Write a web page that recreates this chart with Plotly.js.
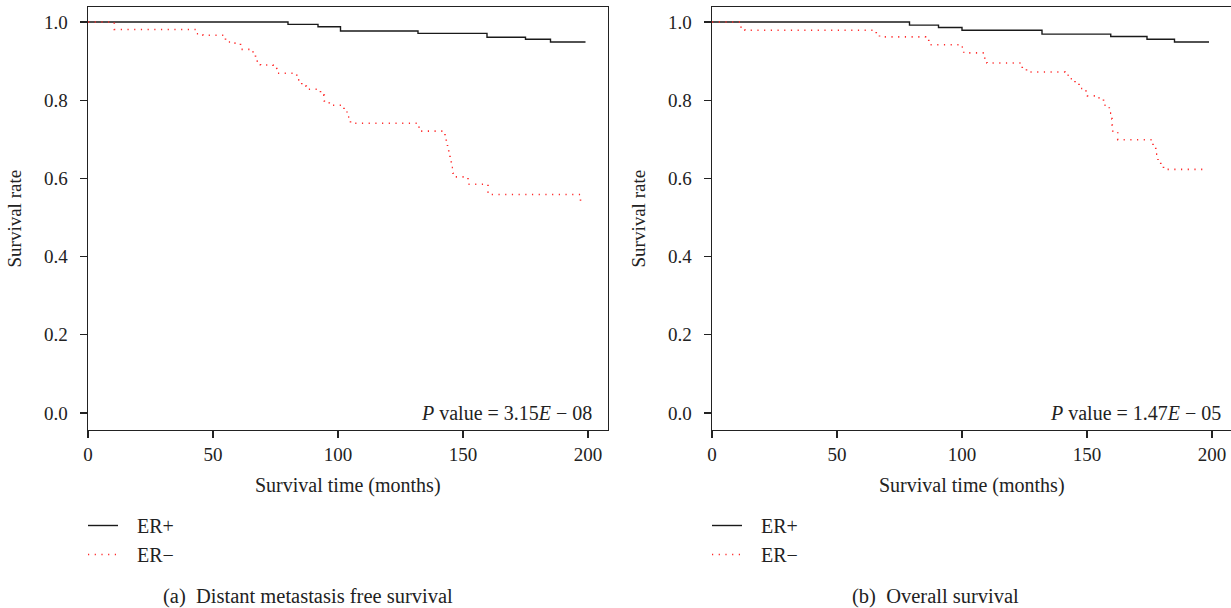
<!DOCTYPE html>
<html>
<head>
<meta charset="utf-8">
<script src="https://cdn.plot.ly/plotly-3.0.1.min.js"></script>
<style>html,body{margin:0;padding:0;background:#fff;}#chart{width:1231px;height:608px;}</style>
</head>
<body>
<div id="chart"></div>
<script>
// Panel (a): distant metastasis free survival
const dmfsPosTime = [0, 80, 92, 101, 132, 159.6, 175, 185, 199];
const dmfsPosRate = [1.0, 0.994, 0.988, 0.977, 0.971, 0.961, 0.956, 0.949, 0.949];
const dmfsNegTime = [0, 10.5, 43.5, 46, 55, 58, 61, 66, 67, 69, 74, 75.5, 83.5, 85.5, 87.3, 93, 94.5, 96.5, 102.4, 103.6, 105, 132.4, 133, 142.8, 143.3, 143.8, 144.3, 144.8, 145.3, 146, 147, 152, 160, 197, 198];
const dmfsNegRate = [1.0, 0.981, 0.970, 0.966, 0.949, 0.946, 0.930, 0.919, 0.900, 0.890, 0.881, 0.869, 0.852, 0.836, 0.828, 0.813, 0.798, 0.787, 0.772, 0.757, 0.741, 0.726, 0.721, 0.710, 0.693, 0.679, 0.662, 0.646, 0.628, 0.613, 0.604, 0.585, 0.559, 0.541, 0.541];
const dmfsPValue = "3.15";
const dmfsPExp = "08";

// Panel (b): overall survival
const osPosTime = [0, 79, 90.6, 100, 132, 159.5, 174, 185, 198.8];
const osPosRate = [1.0, 0.992, 0.986, 0.979, 0.969, 0.963, 0.956, 0.949, 0.949];
const osNegTime = [0, 11.6, 13.2, 65.7, 67, 85.4, 86.7, 99.7, 100.7, 109.1, 110, 124.1, 125.8, 141.2, 142.8, 145.2, 146.8, 149.1, 150.2, 154.8, 156.6, 158.9, 159.2, 160, 160.1, 160.3, 162.3, 176.4, 177.5, 178.4, 179.5, 180.6, 196.9];
const osNegRate = [1.0, 0.985, 0.979, 0.970, 0.962, 0.955, 0.942, 0.936, 0.921, 0.906, 0.895, 0.882, 0.872, 0.864, 0.855, 0.844, 0.830, 0.824, 0.811, 0.802, 0.787, 0.776, 0.767, 0.752, 0.736, 0.719, 0.699, 0.680, 0.662, 0.646, 0.632, 0.623, 0.623];
const osPValue = "1.47";
const osPExp = "05";

const xTicks = [0, 50, 100, 150, 200];
const yTicks = [0, 0.2, 0.4, 0.6, 0.8, 1.0];
const seriesNames = ["ER+", "ER\u2212"];
const xTitle = "Survival time (months)";
const yTitle = "Survival rate";
const captions = ["(a)\u00a0\u00a0Distant metastasis free survival", "(b)\u00a0\u00a0Overall survival"];

const W = 1231, H = 608;
const FONT = "Liberation Serif";
const TXT = "#222";
const pad = "\u00a0\u00a0\u2009";

const posLine = {color: "#1a1a1a", width: 1.4, shape: "hv"};
const negLine = {color: "#ff2a2a", width: 1.6, shape: "hv", dash: "1.2px,5.5px"};

const traces = [
  {x: dmfsPosTime, y: dmfsPosRate, xaxis: "x", yaxis: "y", mode: "lines", line: posLine, name: pad + seriesNames[0], legend: "legend", legendgroup: "a1"},
  {x: dmfsNegTime, y: dmfsNegRate, xaxis: "x", yaxis: "y", mode: "lines", line: negLine, name: pad + seriesNames[1], legend: "legend", legendgroup: "a2"},
  {x: osPosTime, y: osPosRate, xaxis: "x2", yaxis: "y2", mode: "lines", line: posLine, name: pad + seriesNames[0], legend: "legend2", legendgroup: "b1"},
  {x: osNegTime, y: osNegRate, xaxis: "x2", yaxis: "y2", mode: "lines", line: negLine, name: pad + seriesNames[1], legend: "legend2", legendgroup: "b2"}
];

const yDom = [1 - 430 / H, 1 - 7 / H];
const yRange = [-0.0435, 1.0384];

function xAxis(dom, range, anchor) {
  return {
    domain: dom, range: range, anchor: anchor,
    tickvals: xTicks, ticks: "outside", ticklen: 7, tickwidth: 1.3, tickcolor: TXT,
    showline: true, linecolor: TXT, linewidth: 1.4, mirror: true,
    showgrid: false, zeroline: false,
    tickfont: {family: FONT, size: 19, color: TXT}
  };
}
function yAxis(anchor, mirror) {
  return {
    domain: yDom, range: yRange, anchor: anchor,
    tickvals: yTicks, tickformat: ".1f", ticks: "outside", ticklen: 7, tickwidth: 1.3, tickcolor: TXT,
    showline: true, linecolor: TXT, linewidth: 1.4, mirror: mirror,
    showgrid: false, zeroline: false, ticklabelstandoff: 8,
    tickfont: {family: FONT, size: 19, color: TXT}
  };
}

function legendAt(xpx) {
  return {
    x: xpx / W, xanchor: "left", y: 1 - 506 / H, yanchor: "top",
    bgcolor: "rgba(0,0,0,0)", borderwidth: 0,
    font: {family: FONT, size: 20, color: TXT},
    tracegroupgap: 0, itemwidth: 30
  };
}

const ann = [];
[["x", "y", 88, dmfsPValue, dmfsPExp, 594, captions[0], 161], ["x2", "y2", 712, osPValue, osPExp, 1223, captions[1], 850]].forEach(p => {
  ann.push({xref: p[0] + " domain", yref: "paper", x: 0.5, y: 1 - 485 / H, text: xTitle, showarrow: false, xanchor: "center", yanchor: "middle", font: {family: FONT, size: 20, color: TXT}});
  ann.push({xref: "paper", yref: p[1] + " domain", x: (p[2] - 74) / W, y: 0.5, text: yTitle, textangle: -90, showarrow: false, xanchor: "center", yanchor: "middle", font: {family: FONT, size: 19, color: TXT}});
  ann.push({xref: "paper", yref: p[1], x: p[5] / W, y: 0, text: "<i>P</i> value = " + p[3] + "<i>E</i> \u2212 " + p[4], showarrow: false, xanchor: "right", yanchor: "middle", font: {family: FONT, size: 20, color: TXT}});
  ann.push({xref: "paper", yref: "paper", x: p[7] / W, y: 1 - 596 / H, text: p[6], showarrow: false, xanchor: "left", yanchor: "middle", font: {family: FONT, size: 20.5, color: TXT}});
});

const layout = {
  width: W, height: H,
  margin: {l: 0, r: 0, t: 0, b: 0},
  paper_bgcolor: "#fff", plot_bgcolor: "#fff",
  showlegend: true,
  xaxis: xAxis([88 / W, 608 / W], [0, 208], "y"),
  yaxis: yAxis("x", true),
  xaxis2: xAxis([712 / W, 1], [0, 207.6], "y2"),
  yaxis2: yAxis("x2", false),
  legend: legendAt(83),
  legend2: legendAt(707),
  annotations: ann
};

Plotly.newPlot("chart", traces, layout, {displayModeBar: false, staticPlot: true});
</script>
</body>
</html>
